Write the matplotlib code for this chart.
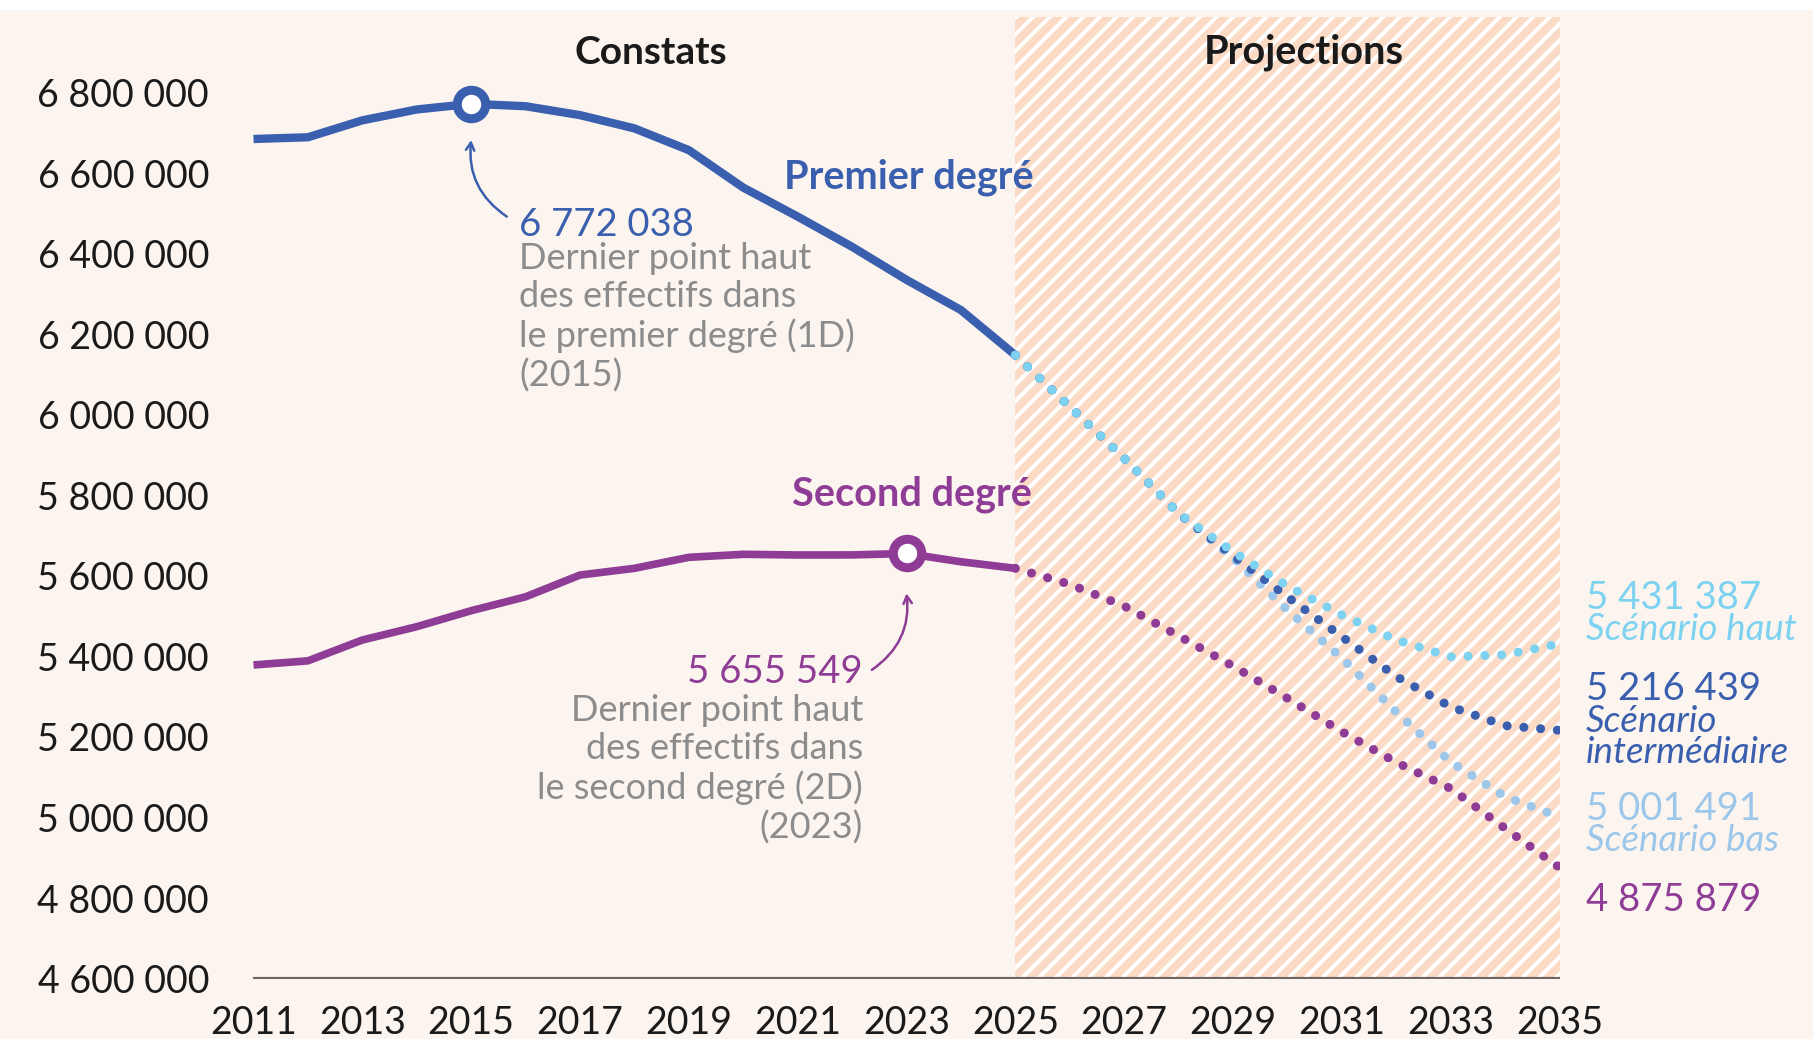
import matplotlib
matplotlib.use("Agg")
import matplotlib.pyplot as plt
from matplotlib.patches import Rectangle

plt.rcParams["font.family"] = ["Lato", "DejaVu Sans"]
plt.rcParams["hatch.linewidth"] = 2.8

# --- données (effectifs d'élèves) ---
annees_constat = list(range(2011, 2026))
premier_degre = [6684700, 6689000, 6731000, 6758000, 6772038, 6766000, 6744000, 6711000,
                 6657000, 6564000, 6492000, 6417000, 6335000, 6260000, 6148000]
second_degre = [5378700, 5389000, 5440700, 5473800, 5513500, 5548000, 5602000, 5618700,
                5646000, 5653500, 5651800, 5652000, 5655549, 5635000, 5618700]

annees_proj = list(range(2025, 2036))
premier_haut = [6148000, 6020000, 5892000, 5755000, 5660000, 5575000, 5503000, 5441000,
                5399000, 5404000, 5431387]
premier_inter = [6148000, 6020000, 5892000, 5755000, 5650000, 5548000, 5449000, 5350000,
                 5275000, 5228000, 5216439]
premier_bas = [6148000, 6020000, 5892000, 5755000, 5645000, 5515000, 5396000, 5262000,
               5138000, 5052000, 5001491]
second_proj = [5618700, 5579000, 5525000, 5451000, 5376000, 5296000, 5213000, 5137000,
               5072000, 4973000, 4875879]

yticks = list(range(4600000, 6800001, 200000))
xticks = list(range(2011, 2036, 2))

BLEU = "#3a5fae"
VIOLET = "#8e3c95"
CIEL = "#7dd2f1"
BLEU_CLAIR = "#9cc6ea"
GRIS = "#8c8c8c"
NOIR = "#1a1a1a"
CREME = "#fcf5ef"
PECHE = "#fbdbc6"


def fmt(v):
    return f"{v:,}".replace(",", " ")


fig = plt.figure(figsize=(18.13, 10.39), dpi=100, facecolor=CREME)
fig.patches.append(Rectangle((0, 1 - 10 / 1039), 1, 10 / 1039, transform=fig.transFigure,
                             facecolor="white", edgecolor="none"))
ax = fig.add_axes([253.5 / 1813, 60.4 / 1039, 1306 / 1813, 961.6 / 1039])
ax.set_facecolor(CREME)
ax.set_xlim(2011, 2035)
ax.set_ylim(4600000, 6987600)

# zone de projections hachurée
ax.axvspan(2025, 2035, facecolor=PECHE, edgecolor="white", hatch="//", lw=0, zorder=0)

# constats
ax.plot(annees_constat, premier_degre, color=BLEU, lw=6, solid_capstyle="butt", zorder=3)
ax.plot(annees_constat, second_degre, color=VIOLET, lw=5.5, solid_capstyle="butt", zorder=3)

# projections en pointillés
pointille = dict(lw=6.5, linestyle=(0, (0.01, 1.85)), dash_capstyle="round", zorder=3)
ax.plot(annees_proj, second_proj, color=VIOLET, **pointille)
ax.plot(annees_proj, premier_bas, color=BLEU_CLAIR, **pointille)
ax.plot(annees_proj, premier_inter, color=BLEU, **pointille)
ax.plot(annees_proj, premier_haut, color=CIEL, **pointille)

# points hauts
i1 = premier_degre.index(max(premier_degre))
i2 = second_degre.index(max(second_degre))
for x, y, c in [(annees_constat[i1], premier_degre[i1], BLEU),
                (annees_constat[i2], second_degre[i2], VIOLET)]:
    ax.plot(x, y, "o", ms=20.5, mfc="white", mec=c, mew=6.5, zorder=4)

# axe du bas
ax.axhline(4600000, color="#6d6664", lw=3, zorder=2)
for s in ax.spines.values():
    s.set_visible(False)
ax.set_xticks(xticks)
ax.set_yticks(yticks)
ax.set_yticklabels([fmt(v) for v in yticks])
ax.tick_params(length=0, labelsize=27, colors=NOIR)
ax.tick_params(axis="y", pad=32)
ax.tick_params(axis="x", pad=19)

# titres de zones
ax.text(2018.3, 6900000, "Constats", ha="center", va="center", fontsize=28, fontweight="bold",
        color=NOIR)
ax.text(2030.3, 6900000, "Projections", ha="center", va="center", fontsize=28.5,
        fontweight="bold", color=NOIR)

# étiquettes des séries
ax.text(2025.33, 6590000, "Premier degré", ha="right", va="center", fontsize=28.5,
        fontweight="bold", color=BLEU)
ax.text(2025.3, 5803000, "Second degré", ha="right", va="center", fontsize=28.5,
        fontweight="bold", color=VIOLET)

fleche = "->,head_length=0.55,head_width=0.3"

# annotation premier degré
x1, v1 = annees_constat[i1], premier_degre[i1]
ax.annotate("", xy=(x1, v1 - 90000), xytext=(x1 + 0.655, v1 - 280000),
            arrowprops=dict(arrowstyle=fleche, color=BLEU, lw=1.8,
                            connectionstyle="arc3,rad=-0.3", shrinkA=0, shrinkB=0))
ax.text(x1 + 0.88, 6471000, fmt(v1), ha="left", va="center", fontsize=27.5, color=BLEU)
ax.text(x1 + 0.88, 6429000,
        "Dernier point haut\ndes effectifs dans\nle premier degré (1D)\n(2015)",
        ha="left", va="top", fontsize=26, color=GRIS, linespacing=1.19)

# annotation second degré
x2, v2 = annees_constat[i2], second_degre[i2]
ax.annotate("", xy=(x2, v2 - 99000), xytext=(x2 - 0.636, v2 - 289000),
            arrowprops=dict(arrowstyle=fleche, color=VIOLET, lw=1.8,
                            connectionstyle="arc3,rad=0.3", shrinkA=0, shrinkB=0))
ax.text(x2 - 0.8, 5361000, fmt(v2), ha="right", va="center", fontsize=27.5, color=VIOLET)
ax.text(x2 - 0.8, 5307000,
        "Dernier point haut\ndes effectifs dans\nle second degré (2D)\n(2023)",
        ha="right", va="top", fontsize=26, color=GRIS, linespacing=1.19)

# valeurs finales des scénarios
xl = 2035.48
txt = dict(va="center", clip_on=False)
ax.text(xl, 5545000, fmt(premier_haut[-1]), fontsize=27.5, color=CIEL, **txt)
ax.text(xl, 5466000, "Scénario haut", fontsize=26.5, color=CIEL, style="italic", **txt)
ax.text(xl, 5319000, fmt(premier_inter[-1]), fontsize=27.5, color=BLEU, **txt)
ax.text(xl, 5200000, "Scénario\nintermédiaire", fontsize=26.5, color=BLEU, style="italic",
        linespacing=0.92, **txt)
ax.text(xl, 5021000, fmt(premier_bas[-1]), fontsize=27.5, color=BLEU_CLAIR, **txt)
ax.text(xl, 4942000, "Scénario bas", fontsize=26.5, color=BLEU_CLAIR, style="italic", **txt)
ax.text(xl, 4795000, fmt(second_proj[-1]), fontsize=27.5, color=VIOLET, **txt)

fig.savefig("out.png", dpi=100, facecolor=CREME)
